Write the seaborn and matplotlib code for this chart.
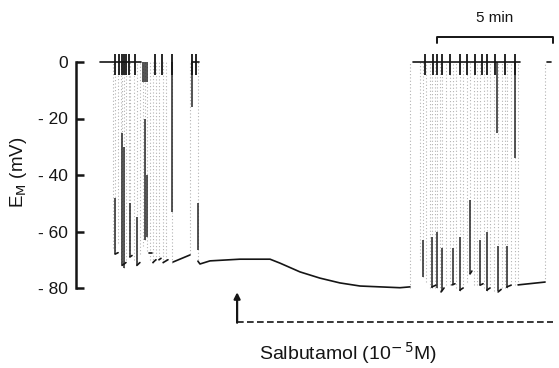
import numpy as np
import pandas as pd
import matplotlib
matplotlib.use("Agg")
import matplotlib.pyplot as plt
import seaborn as sns

# ---------------- data (time in min, membrane potential in mV) ----------------
yticks = [0, -20, -40, -60, -80]
ytick_labels = ["0", "- 20", "- 40", "- 60", "- 80"]

# slow hyperpolarisation during salbutamol
slow_t = [4.22, 4.31, 4.74, 6.03, 7.33, 7.76, 8.62, 9.48, 10.34, 11.21, 12.07, 12.93, 13.36]
slow_v = [-70.5, -71.5, -70.4, -69.8, -69.8, -71.2, -74.3, -76.5, -78.2, -79.3, -79.6, -79.9, -79.6]

# resting (0 mV) stretches of the trace
top_t0 = [0.00, 3.97, 13.49, 19.27]
top_t1 = [1.77, 4.25, 18.10, 19.44]

# small overshoot spikes on the 0 mV level
tick_t = [0.65, 0.82, 0.95, 1.03, 1.12, 1.25, 1.51, 2.37, 2.67, 3.10, 3.97, 4.14,
          14.01, 14.35, 14.53, 14.74, 15.09, 15.52, 15.82, 16.16, 16.47, 16.68,
          17.03, 17.46, 17.89]

# fast swings from 0 mV down to the negative level (faint pen strokes)
swing_t = [0.56, 0.65, 0.78, 0.91, 0.95, 1.03, 1.12, 1.25, 1.29, 1.47, 1.59, 1.72,
           1.85, 1.94, 2.03, 2.16, 2.28, 2.41, 2.54, 2.72, 2.84, 3.10, 3.88, 4.22,
           13.36, 13.79, 13.92, 14.05, 14.22, 14.31, 14.44, 14.53, 14.66, 14.74,
           14.91, 15.09, 15.22, 15.34, 15.52, 15.65, 15.82, 15.95, 16.12, 16.25,
           16.38, 16.55, 16.68, 16.81, 16.98, 17.16, 17.33, 17.46, 17.54, 17.72,
           17.89, 18.02, 19.18]
swing_lo = [-66, -68, -64, -71, -72, -73, -70, -69, -69, -70, -72, -68,
            -65, -63, -67, -70, -71, -70, -70, -71, -70, -71, -68, -70,
            -80, -70, -76, -78, -80, -80, -80, -80, -81, -81,
            -79, -79, -79, -80, -81, -80, -78, -75, -79, -79,
            -79, -80, -81, -80, -81, -81, -80, -80, -80, -79,
            -79, -79, -78]

# darker parts of the pen strokes
dark_t = [0.65, 0.95, 1.03, 1.29, 1.59, 1.85, 1.94, 2.03, 1.94, 2.03, 3.10, 3.97, 4.22,
          13.92, 14.31, 14.53, 14.74, 15.22, 15.52, 15.95, 16.38, 16.68, 17.11,
          17.16, 17.54, 17.89]
dark_hi = [-48, -25, -30, -50, -55, 0, 0, 0, -20, -40, 0, 0, -50,
           -63, -62, -60, -66, -66, -62, -49, -63, -60, 0,
           -65, -65, 0]
dark_lo = [-68, -72, -73, -69, -72, -7, -7, -7, -63, -62, -53, -16, -66.5,
           -76, -80, -80, -81, -79, -81, -75, -79, -81, -25,
           -81, -80, -34]

# short stretches at the negative level
hook_t0 = [0.65, 0.95, 1.29, 1.59, 2.11, 2.28, 2.54, 2.72, 3.15,
           14.31, 14.70, 15.17, 15.52, 15.95, 16.38, 16.68, 17.16, 17.54, 18.02]
hook_t1 = [0.78, 1.12, 1.38, 1.72, 2.24, 2.41, 2.63, 2.93, 3.88,
           14.48, 14.83, 15.30, 15.65, 16.03, 16.51, 16.81, 17.29, 17.72, 19.18]
hook_v0 = [-68, -72, -69, -72, -67.6, -71, -70, -71, -70.8,
           -79.6, -81.4, -78.9, -80.7, -75, -79, -80.7, -81.4, -79.6, -78.9]
hook_v1 = [-67.5, -71, -68.5, -71, -67.6, -70, -69.5, -70, -68.3,
           -79, -80, -78.5, -80, -74, -78.5, -80, -80.5, -79, -77.9]

drug_on = 5.91          # salbutamol application (min)
drug_end = 19.53
drug_level = -92.0
scale_t = [14.53, 19.53]   # 5 min bar

# ---------------- build tidy segments table ----------------
rows = []
seg = 0
for t, v in zip(slow_t, slow_v):
    rows.append((t, v, seg))
seg += 1
for a, b in zip(top_t0, top_t1):
    rows += [(a, 0.0, seg), (b, 0.0, seg)]
    seg += 1
for a, b, va, vb in zip(hook_t0, hook_t1, hook_v0, hook_v1):
    rows += [(a, va, seg), (b, vb, seg)]
    seg += 1
df = pd.DataFrame(rows, columns=["t", "v", "seg"])

# ---------------- figure ----------------
sns.set_style("ticks")
plt.rcParams["font.family"] = ["Liberation Sans", "DejaVu Sans"]
fig = plt.figure(figsize=(5.59, 3.68), dpi=100)
ax = fig.add_axes([76 / 559, 23.5 / 368, 480 / 559, 339 / 368])

ink = "#151515"
ax.vlines(swing_t, swing_lo, 0, color="0.5", lw=0.8, alpha=0.6,
          linestyles=[(0, (1.0, 2.0))])
ax.vlines(dark_t, dark_lo, dark_hi, color="0.15", lw=1.3, alpha=0.85)
sns.lineplot(data=df, x="t", y="v", units="seg", estimator=None, sort=False,
             color=ink, lw=1.2, ax=ax, legend=False)
ax.vlines(tick_t, -4.5, 2.8, color=ink, lw=1.3)

# salbutamol marker
ax.plot([drug_on, drug_end], [drug_level, drug_level], color=ink, lw=1.2,
        ls=(0, (4, 2)))
ax.annotate("", xy=(drug_on, -81.5), xytext=(drug_on, drug_level - 0.3),
            arrowprops=dict(arrowstyle="-|>", color=ink, lw=1.6,
                            mutation_scale=9, shrinkA=0, shrinkB=0))
ax.text(10.69, -103.0, "Salbutamol (10$^{-\\,5}$M)", ha="center", va="center",
        fontsize=14, color=ink, clip_on=False)

# time scale bar
ax.plot([scale_t[0], scale_t[0], scale_t[1], scale_t[1]], [6.7, 8.85, 8.85, 6.7],
        color=ink, lw=1.4)
ax.text(np.mean(scale_t), 15.6, "5 min", ha="center", va="center",
        fontsize=11, color=ink)

# axes styling
ax.set_xlim(-1.034, 19.655)
ax.set_ylim(-100, 20)
for s in ["top", "right", "bottom"]:
    ax.spines[s].set_visible(False)
ax.spines["left"].set_bounds(-80, 0)
ax.spines["left"].set_linewidth(1.8)
ax.spines["left"].set_color(ink)
ax.set_xticks([])
ax.set_xlabel("")
ax.set_yticks(yticks)
ax.set_yticklabels(ytick_labels, fontsize=12.5, color=ink)
ax.tick_params(axis="y", direction="in", length=6, width=1.8, pad=6, colors=ink)
ax.set_ylabel("E$_\\mathrm{M}$ (mV)", fontsize=13.5, color=ink)
ax.yaxis.set_label_coords(-0.098, 0.509)

fig.savefig("out.png", dpi=100)
